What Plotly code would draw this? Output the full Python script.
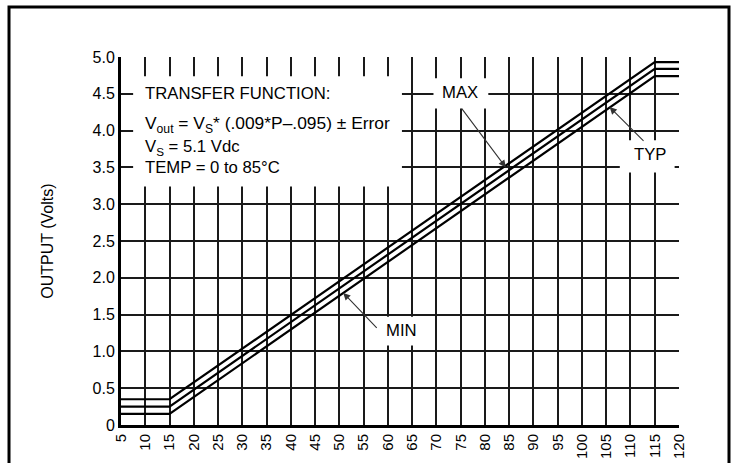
import plotly.graph_objects as go

# ---- data ----
pressure = [5, 15, 115, 120]          # kPa
v_max = [0.35, 0.35, 4.93, 4.93]
v_typ = [0.25, 0.25, 4.84, 4.84]
v_min = [0.15, 0.15, 4.74, 4.74]

x_ticks = list(range(5, 121, 5))
y_ticks = [0, 0.5, 1.0, 1.5, 2.0, 2.5, 3.0, 3.5, 4.0, 4.5, 5.0]
y_tick_text = ["0", "0.5", "1.0", "1.5", "2.0", "2.5", "3.0", "3.5", "4.0", "4.5", "5.0"]

REG = "Liberation Sans, Arial, sans-serif"

fig = go.Figure()
for name, vals in [("MAX", v_max), ("TYP", v_typ), ("MIN", v_min)]:
    fig.add_trace(go.Scatter(x=pressure, y=vals, mode="lines", name=name,
                             line=dict(color="black", width=2.2), showlegend=False,
                             hoverinfo="skip"))

# white boxes hiding the grid behind labels (x0,x1,y0,y1 in data units)
boxes = [(7.5, 62.9, 3.24, 4.74), (69.4, 80.7, 4.30, 4.71),
         (107.8, 119.1, 3.43, 3.87), (57.3, 67.6, 1.08, 1.47)]
shapes = []
for x0, x1, y0, y1 in boxes:
    shapes.append(dict(type="rect", xref="x", yref="y", x0=x0, x1=x1, y0=y0, y1=y1,
                       fillcolor="white", line=dict(width=0), layer="between"))
# outer frame
shapes.append(dict(type="rect", xref="paper", yref="paper", x0=-0.2007, x1=1.0896,
                   y0=-0.2, y1=1.136, line=dict(color="black", width=3),
                   fillcolor="rgba(0,0,0,0)", layer="above"))

text_font = dict(family=REG, size=16.7, color="black")
annotations = [
    dict(x=9.5, y=4.505, text="TRANSFER FUNCTION:", xanchor="left", yanchor="middle"),
    dict(x=9.5, y=4.08, text="V<sub>out</sub> = V<sub>S</sub>* (.009*P\u2013.095) \u00b1 Error",
         xanchor="left", yanchor="middle", font=dict(family=REG, size=17.4, color="black")),
    dict(x=9.5, y=3.77, text="V<sub>S</sub> = 5.1 Vdc", xanchor="left", yanchor="middle"),
    dict(x=9.5, y=3.50, text="TEMP = 0 to 85\u00b0C", xanchor="left", yanchor="middle"),
    dict(x=74.8, y=4.52, text="MAX", xanchor="center", yanchor="middle"),
    dict(x=114.0, y=3.68, text="TYP", xanchor="center", yanchor="middle"),
    dict(x=62.9, y=1.29, text="MIN", xanchor="center", yanchor="middle"),
]
for a in annotations:
    a.setdefault("font", text_font)
    a.update(xref="x", yref="y", showarrow=False)

# y-axis title
annotations.append(dict(x=-0.133, y=0.5, xref="paper", yref="paper", text="OUTPUT (Volts)",
                        textangle=-90, showarrow=False, xanchor="center", yanchor="middle",
                        font=dict(family=REG, size=16, color="black")))

# arrows: (tip_x, tip_y, tail_x, tail_y)
arrows = [(84.3, 3.50, 75.0, 4.32), (105.7, 4.32, 113.0, 3.84), (50.8, 1.795, 58.0, 1.30)]
for tx, ty, sx, sy in arrows:
    annotations.append(dict(x=tx, y=ty, ax=sx, ay=sy, xref="x", yref="y", axref="x", ayref="y",
                            text="", showarrow=True, arrowhead=2, arrowsize=1.3,
                            arrowwidth=1.1, arrowcolor="#333"))

fig.update_layout(
    width=731, height=463, autosize=False,
    margin=dict(l=121, r=52, t=57, b=38, pad=0),
    paper_bgcolor="white", plot_bgcolor="white",
    shapes=shapes, annotations=annotations,
    xaxis=dict(range=[5, 120], tickvals=x_ticks, ticktext=[str(v) for v in x_ticks],
               tickangle=-90, showgrid=True, gridcolor="#1a1a1a", gridwidth=1.6,
               showline=True, linecolor="black", linewidth=3, zeroline=False,
               ticks="", automargin=False,
               tickfont=dict(family=REG, size=15, color="black"), fixedrange=True),
    yaxis=dict(range=[0, 5], tickvals=y_ticks, ticktext=y_tick_text,
               showgrid=True, gridcolor="#1a1a1a", gridwidth=1.6,
               showline=True, linecolor="black", linewidth=3, zeroline=False,
               ticks="", automargin=False,
               tickfont=dict(family=REG, size=16, color="black"), fixedrange=True),
)

fig.write_html("out.html", config={"displayModeBar": False},
               post_script="document.body.style.margin='0';document.body.style.overflow='hidden';")
